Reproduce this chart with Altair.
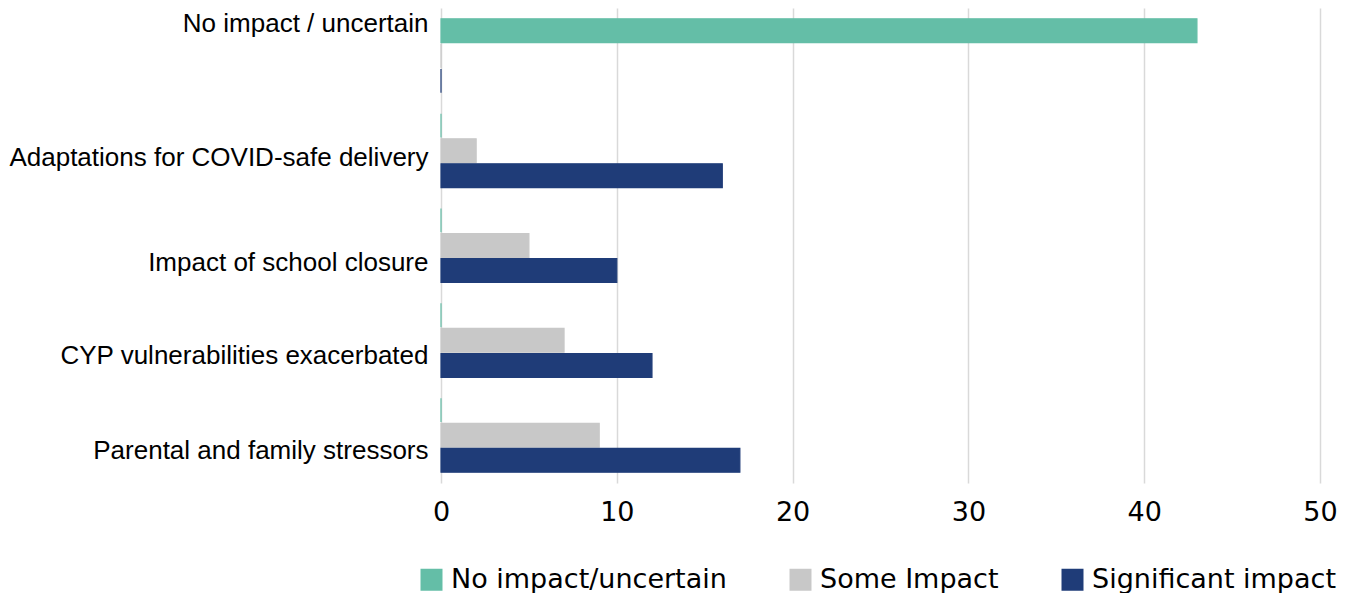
import altair as alt
import pandas as pd

categories = [
    "No impact / uncertain",
    "Adaptations for COVID-safe delivery",
    "Impact of school closure",
    "CYP vulnerabilities exacerbated",
    "Parental and family stressors",
]
series = ["No impact/uncertain", "Some Impact", "Significant impact"]
no_impact = [43, 0, 0, 0, 0]
some_impact = [0, 2, 5, 7, 9]
significant = [0, 16, 10, 12, 17]
colors = ["#64BEA7", "#C8C8C8", "#1F3C78"]
x_ticks = [0, 10, 20, 30, 40, 50]

rows = []
for s, vals in zip(series, [no_impact, some_impact, significant]):
    for c, v in zip(categories, vals):
        rows.append({"category": c, "series": s, "value": v})
df = pd.DataFrame(rows)

label_offset_expr = (
    "datum.value == 'No impact / uncertain' ? -32 : "
    "datum.value == 'Adaptations for COVID-safe delivery' ? 7 : "
    "datum.value == 'Impact of school closure' ? 17 : 16"
)

color_scale = alt.Scale(domain=series, range=colors)

chart = alt.Chart(df).mark_bar(strokeWidth=1.2).encode(
    x=alt.X(
        "value:Q",
        scale=alt.Scale(domain=[0, 50], nice=False),
        axis=alt.Axis(
            values=x_ticks, title=None, grid=True, gridColor="#D9D9D9",
            gridWidth=1.5, domain=False, ticks=False, tickSize=0,
            labelFont="DejaVu Sans", labelFontSize=27, labelColor="#000000",
            labelPadding=16, labelFlush=False,
        ),
    ),
    y=alt.Y(
        "category:N", sort=categories,
        scale=alt.Scale(paddingInner=0.22, paddingOuter=0.114),
        axis=alt.Axis(
            title=None, domain=False, ticks=False, labelFont="Liberation Sans",
            labelFontSize=26, labelColor="#000000", labelPadding=13,
            labelLimit=600, labelOffset={"expr": label_offset_expr},
        ),
    ),
    yOffset=alt.YOffset(
        "series:N", sort=series,
        scale=alt.Scale(paddingInner=0.05, paddingOuter=0),
    ),
    color=alt.Color(
        "series:N", scale=color_scale, sort=series,
        legend=alt.Legend(
            title=None, orient="none", legendX=-23, legendY=558,
            direction="horizontal", symbolType="square", symbolSize=484,
            symbolStrokeWidth=0, labelFont="DejaVu Sans", labelFontSize=27,
            labelColor="#000000", labelLimit=500, labelOffset=6,
            columnPadding=60, padding=0,
        ),
    ),
    stroke=alt.Stroke("series:N", scale=color_scale, legend=None),
).properties(
    width=879,
    height=475,
    background="white",
    autosize=alt.AutoSizeParams(type="none"),
    padding={"left": 433, "top": 0, "right": 19, "bottom": 110},
).configure_view(strokeWidth=0, stroke=None)

chart.save("out.html", embed_options={"renderer": "svg", "actions": False})
